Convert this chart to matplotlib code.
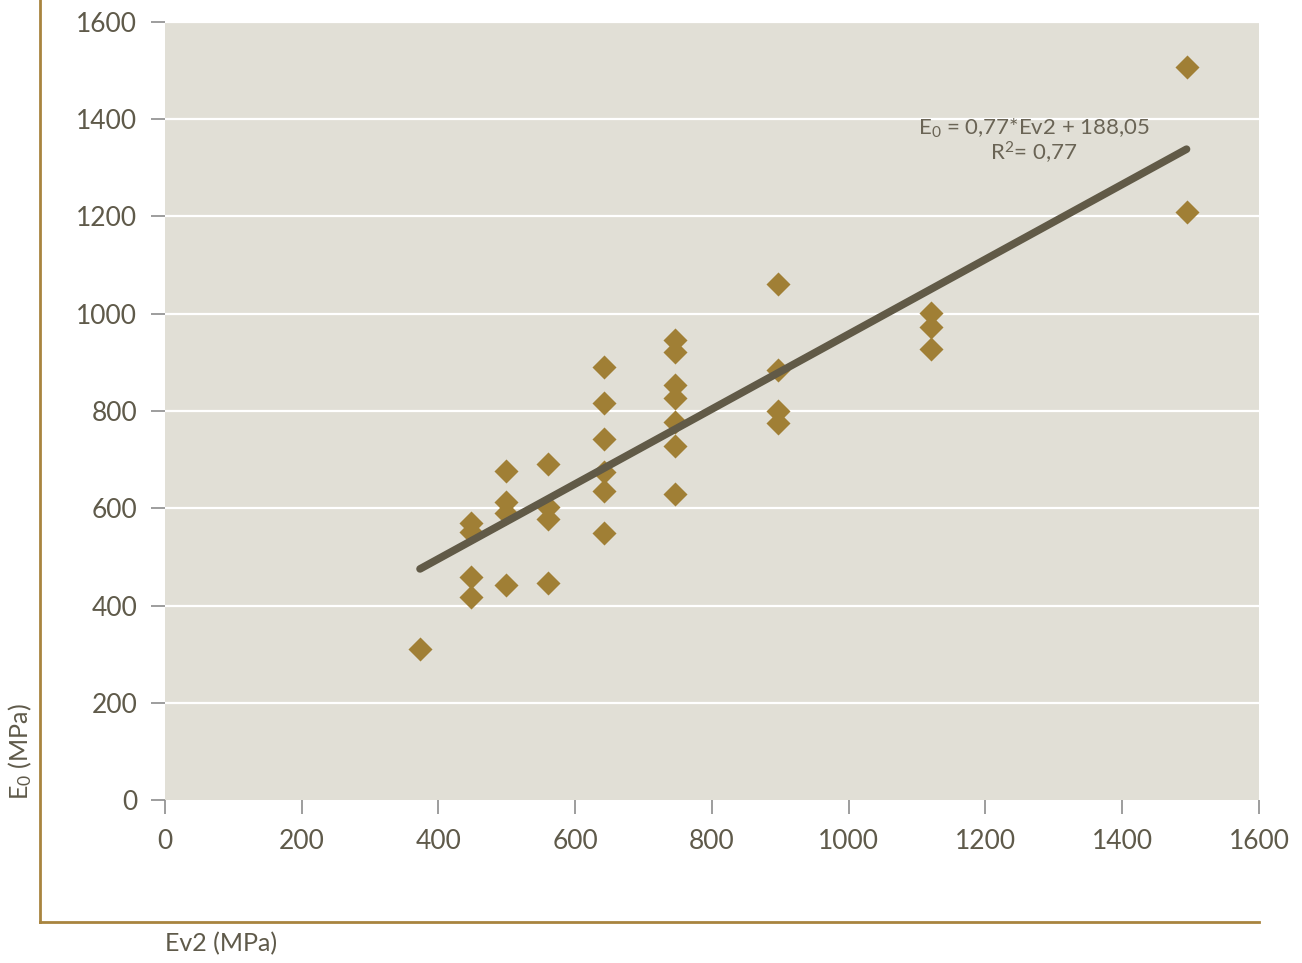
import matplotlib
matplotlib.use("Agg")
import matplotlib.pyplot as plt
from matplotlib.lines import Line2D

plt.rcParams["font.family"] = ["Lato", "DejaVu Sans"]
plt.rcParams["mathtext.default"] = "regular"

ev2 = [373,
       448, 448, 448, 448,
       498, 498, 498, 498,
       560, 560, 560, 560,
       642, 642, 642, 642, 642, 642,
       746, 746, 746, 746, 746, 746, 746,
       897, 897, 897, 897,
       1120, 1120, 1120,
       1494, 1494]
e0 = [310,
      569, 552, 458, 417,
      677, 612, 591, 442,
      692, 603, 577, 446,
      890, 816, 742, 675, 636, 550,
      946, 921, 853, 826, 778, 728, 629,
      1061, 884, 800, 775,
      1001, 972, 927,
      1507, 1209]

# linear trend reported on the chart
slope = 0.77
intercept = 188.05
r2 = 0.77

ticks = [0, 200, 400, 600, 800, 1000, 1200, 1400, 1600]

text_col = "#5f5a4a"
bg_col = "#e1dfd6"
marker_col = "#a07f35"
line_col = "#615a47"
frame_col = "#a8843f"

fig = plt.figure(figsize=(13.02, 9.63), dpi=100)
ax = fig.add_axes([165 / 1302, 163 / 963, 1094 / 1302, 778 / 963])
ax.set_facecolor(bg_col)

for t in ticks[1:]:
    ax.axhline(t, color="white", lw=1.6, zorder=1)

ax.scatter(ev2, e0, marker="D", s=150, color=marker_col, linewidths=0, zorder=3)

x0, x1 = min(ev2), max(ev2)
ax.plot([x0, x1], [slope * x0 + intercept, slope * x1 + intercept],
        color=line_col, lw=5.5, solid_capstyle="round", zorder=4)

ax.text(1271, 1382, "E$_0$ = 0,77*Ev2 + 188,05", ha="center", va="center",
        fontsize=16, color="#6a6455", zorder=5)
ax.text(1271, 1331, f"R$^2$= {r2:.2f}".replace(".", ","), ha="center",
        va="center", fontsize=16, color="#6a6455", zorder=5)

ax.set_xlim(0, 1600)
ax.set_ylim(0, 1600)
ax.set_xticks(ticks)
ax.set_yticks(ticks)
for s in ax.spines.values():
    s.set_visible(False)
ax.tick_params(axis="both", direction="out", length=10, width=1.2,
               color="#8c8c8c", labelcolor=text_col, labelsize=19)
ax.tick_params(axis="y", pad=10)
ax.tick_params(axis="x", pad=11)

# outer frame on left and bottom
fig.add_artist(Line2D([40 / 1302, 40 / 1302], [1, 41 / 963],
                      transform=fig.transFigure, color=frame_col, lw=2))
fig.add_artist(Line2D([40 / 1302, 1259 / 1302], [41 / 963, 41 / 963],
                      transform=fig.transFigure, color=frame_col, lw=2))

fig.text(20 / 1302, 163 / 963, "E$_0$ (MPa)", rotation=90, ha="center",
         va="bottom", fontsize=18, color=text_col)
fig.text(165 / 1302, 19 / 963, "Ev2 (MPa)", ha="left", va="center",
         fontsize=18, color=text_col)

fig.savefig("out.png", dpi=100, facecolor="white")
